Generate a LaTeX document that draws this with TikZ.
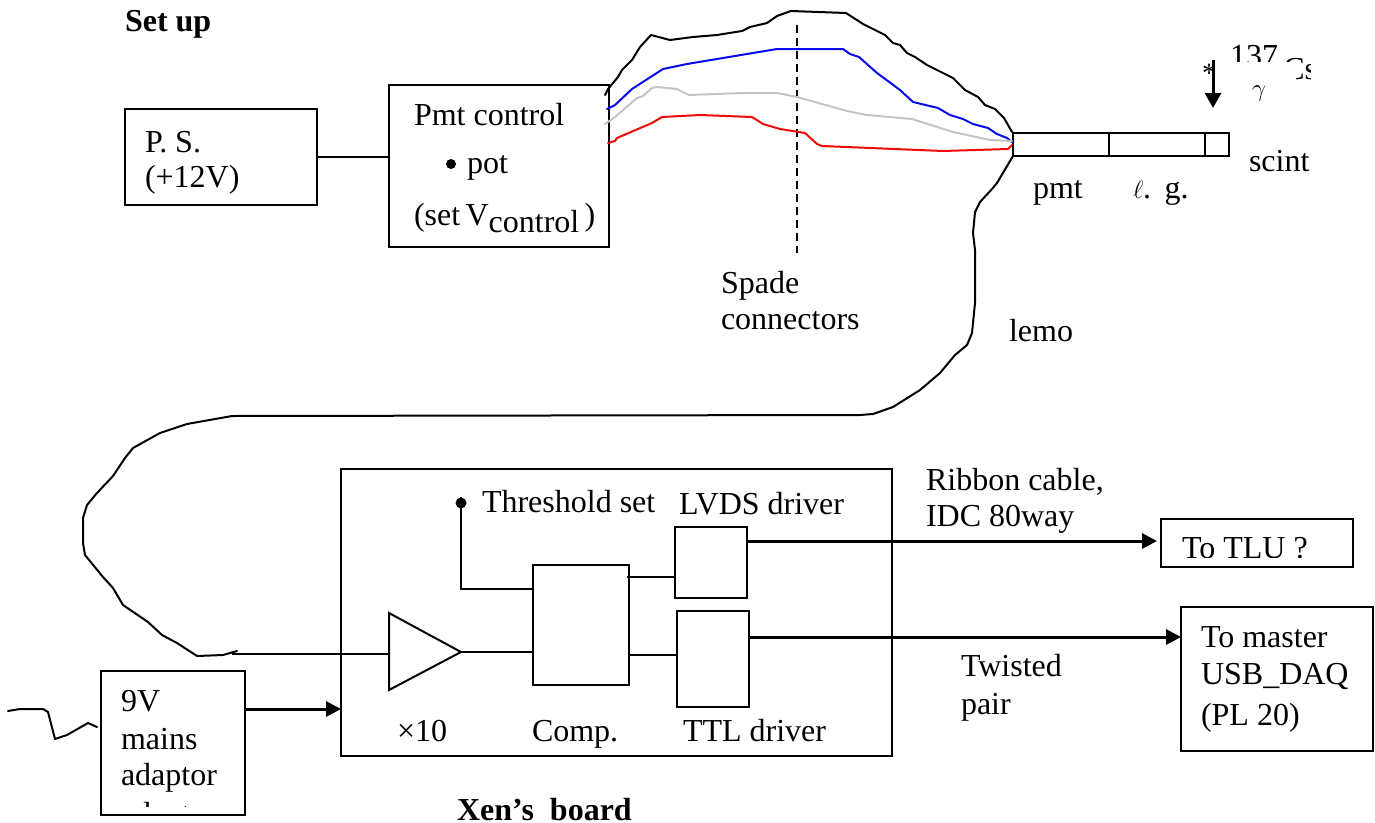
\documentclass[tikz,border=0pt]{standalone}
\usepackage{fontspec}
\setmainfont{Liberation Serif}
\usepackage{tikz}
\usetikzlibrary{arrows.meta}
\definecolor{wireblue}{HTML}{0A0AF0}
\definecolor{wiregrey}{HTML}{C4C4C4}
\definecolor{wirered}{HTML}{F00A0A}
\tikzset{
  box/.style={draw=black, line width=2pt, inner sep=0pt, outer sep=0pt},
  lbl/.style={anchor=base west, inner sep=0pt, outer sep=0pt, font=\fontsize{32}{36}\selectfont},
  lblb/.style={lbl, font=\fontsize{32}{36}\bfseries\selectfont},
  conn/.style={line width=2pt},
  feed/.style={line width=3pt, -{Triangle[width=15pt,length=15pt]}},
  wire/.style={line width=2pt, line join=round, line cap=round},
}
\begin{document}
\begin{tikzpicture}[x=1pt, y=-1pt]
\useasboundingbox (0,0) rectangle (1375,822);

% boxes
\node[box, minimum width=192pt, minimum height=96pt] (ps) at (221,157) {};
\node[box, minimum width=220pt, minimum height=162pt] (pmtctl) at (499,166) {};
\node[box, minimum width=96pt, minimum height=23pt] (pmt) at (1061,144.5) {};
\node[box, minimum width=96pt, minimum height=23pt] (lg) at (1157,144.5) {};
\node[box, minimum width=24pt, minimum height=23pt] (scint) at (1217,144.5) {};
\node[box, minimum width=551pt, minimum height=287pt] (xen) at (616.5,612.5) {};
\node[box, minimum width=96pt, minimum height=120pt] (comp) at (581,625) {};
\node[box, minimum width=72pt, minimum height=71pt] (lvds) at (711,562.5) {};
\node[box, minimum width=72pt, minimum height=96pt] (ttl) at (713,659) {};
\node[box, minimum width=192pt, minimum height=48pt] (tlu) at (1257,543) {};
\node[box, minimum width=192pt, minimum height=144pt] (master) at (1277,679) {};
\node[box, minimum width=144pt, minimum height=144pt] (adaptor) at (173,743) {};

% amplifier
\coordinate (ampin) at (389,654);
\coordinate (ampout) at (461,652);
\draw[conn, line join=miter] (389,613) -- (ampout) -- (389,690) -- cycle;

% labels
\node[lblb] (setup) at (125,31) {Set up};
\node[lbl] (pslbla) at (145,152) {P. S.};
\node[lbl] (pslblb) at (145,187) {(+12V)};
\node[lbl] (ctllbla) at (414,125) {Pmt control};
\node[circle, fill=black, inner sep=0pt, minimum size=10pt] (potdot) at (451,164) {};
\node[lbl] (ctllblb) at (467,173) {pot};
\node[lbl] (ctllblc) at (414,225) {(set\,V\raisebox{-7pt}{control}\,)};
\node[lbl] (spade) at (721,293) {Spade};
\node[lbl] (spadeb) at (721,329) {connectors};
\node[lbl] (lemo) at (1009,341) {lemo};
\node[lbl] (pmtlbl) at (1033,198) {pmt};
\node[lbl] (lglbl) at (1133,198) {$\ell$.\ \,g.};
\node[lbl] (scintlbl) at (1249,171) {scint};
\node[lbl] (gammalbl) at (1252,96) {$\gamma$};
\node[lbl] (thrlbl) at (482,512) {Threshold set};
\node[lbl] (lvdslbl) at (679,514) {LVDS driver};
\node[lbl] (ribbona) at (926,490) {Ribbon cable,};
\node[lbl] (ribbonb) at (926,526) {IDC 80way};
\node[lbl] (twista) at (961,676) {Twisted};
\node[lbl] (twistb) at (961,714) {pair};
\node[lbl] (mastera) at (1201,647) {To master};
\node[lbl] (masterb) at (1201,684) {USB\_DAQ};
\node[lbl] (masterc) at (1201,725) {(PL 20)};
\node[lbl] (adapta) at (121,711) {9V};
\node[lbl] (adaptb) at (121,749) {mains};
\node[lbl] (adaptc) at (121,785) {adaptor};
\node[lbl] (amplbl) at (397,741) {×10};
\node[lbl] (complbl) at (532,741) {Comp.};
\node[lbl] (ttllbl) at (683,741) {TTL driver};
\node[lblb] (xenlbl) at (457,820) {Xen’s\ \ board};

% cut off text
\begin{scope}
\clip (1225,40) -- (1310,40) -- (1310,85) -- (1296,85) -- (1296,61) -- (1225,61) -- cycle;
\node[lbl] (cslbl) at (1230,79) {\raisebox{13pt}{137}\,Cs};
\end{scope}
\begin{scope}
\clip (tlu.north west) rectangle (1353,557);
\node[lbl] (tlulbl) at (1182,558) {To TLU ?};
\end{scope}
\begin{scope}
\clip (103,700) rectangle (243,806);
\node[lbl] (adaptd) at (121,824) {adaptor};
\end{scope}

% connectors
\draw[conn] (ps.east) -- (ps.east -| pmtctl.west);
\node[circle, fill=black, inner sep=0pt, minimum size=11pt] (thrdot) at (461,503) {};
\coordinate (thrin) at (comp.west |- 0,589);
\draw[conn] (thrdot.north) -- (461,589) -- (thrin);
\draw[conn] (ampout) -- (ampout -| comp.west);
\coordinate (compa) at (627,577);
\coordinate (compb) at (comp.east |- 0,655);
\draw[conn] (compa) -- (compa -| lvds.west);
\draw[conn] (compb) -- (compb -| ttl.west);
\coordinate (lvdsout) at (lvds.east |- 0,541);
\coordinate (ttlout) at (ttl.east |- 0,637);
\coordinate (adaptout) at (adaptor.east |- 0,709);
\draw[feed, shorten >=4pt] (lvdsout) -- (lvdsout -| tlu.west);
\draw[feed] (ttlout) -- (ttlout -| master.west);
\draw[feed] (adaptout) -- (adaptout -| xen.west);
\coordinate (lemoend) at (232,654);
\draw[conn] (lemoend) -- (ampin);
\draw[dashed, line width=2pt, dash pattern=on 8pt off 5pt] (797,25) -- (797,253);

% source
\coordinate (srctop) at (1213,60);
\coordinate (srctip) at (1213,108);
\draw[line width=3pt, -{Triangle[width=16pt,length=15pt]}] (srctop) -- (srctip);
\node[inner sep=0pt, font=\fontsize{28}{28}\selectfont] (star) at (1209,73) {*};

% hand drawn cables
\draw[wire, black] (605,95) -- (608,89) -- (618,77) -- (622,70) -- (632,60) -- (640,47) -- (651,35) -- (670,40) -- (693,37) -- (717,35) -- (742,31) -- (750,27) -- (767,23) -- (777,16) -- (791,11) -- (846,13) -- (863,24) -- (885,35) -- (893,43) -- (900,45) -- (907,53) -- (915,57) -- (927,65) -- (937,70) -- (953,78) -- (965,90) -- (978,97) -- (985,105) -- (995,109) -- (1004,118) -- (1012,132);
\draw[wire, wireblue] (607,109) -- (615,105) -- (632,89) -- (663,69) -- (687,64) -- (777,49) -- (843,49) -- (850,54) -- (859,57) -- (877,73) -- (900,90) -- (913,102) -- (938,108) -- (950,115) -- (963,119) -- (973,124) -- (988,128) -- (997,134) -- (1007,138) -- (1012,142);
\draw[wire, wiregrey] (605,124) -- (615,117) -- (637,98) -- (643,96) -- (652,88) -- (657,87) -- (677,89) -- (689,95) -- (743,93) -- (777,93) -- (797,97) -- (847,111) -- (867,115) -- (912,119) -- (953,132) -- (990,140) -- (1012,141);
\draw[wire, wirered] (608,143) -- (615,141) -- (617,138) -- (652,123) -- (662,117) -- (700,115) -- (752,117) -- (763,124) -- (780,129) -- (805,133) -- (817,144) -- (822,146) -- (943,151) -- (1008,149) -- (1012,145);
\draw[wire, black] (pmt.south west) -- (997,183) -- (992,189) -- (980,202) -- (975,212) -- (973,233) -- (975,250) -- (975,303) -- (972,333) -- (967,345) -- (955,355) -- (940,373) -- (920,390) -- (893,407) -- (873,414) -- (860,415) -- (232,416) -- (187,424) -- (160,433) -- (133,448) -- (125,458) -- (113,476) -- (97,493) -- (87,505) -- (83,518) -- (83,543) -- (85,555) -- (103,577) -- (113,588) -- (123,605) -- (148,622) -- (162,635) -- (177,643) -- (197,656) -- (223,655) -- (237,651);
\draw[wire, black] (8,711) -- (20,709) -- (43,709) -- (48,712) -- (55,739) -- (67,735) -- (88,723) -- (97,727);
\end{tikzpicture}
\end{document}
